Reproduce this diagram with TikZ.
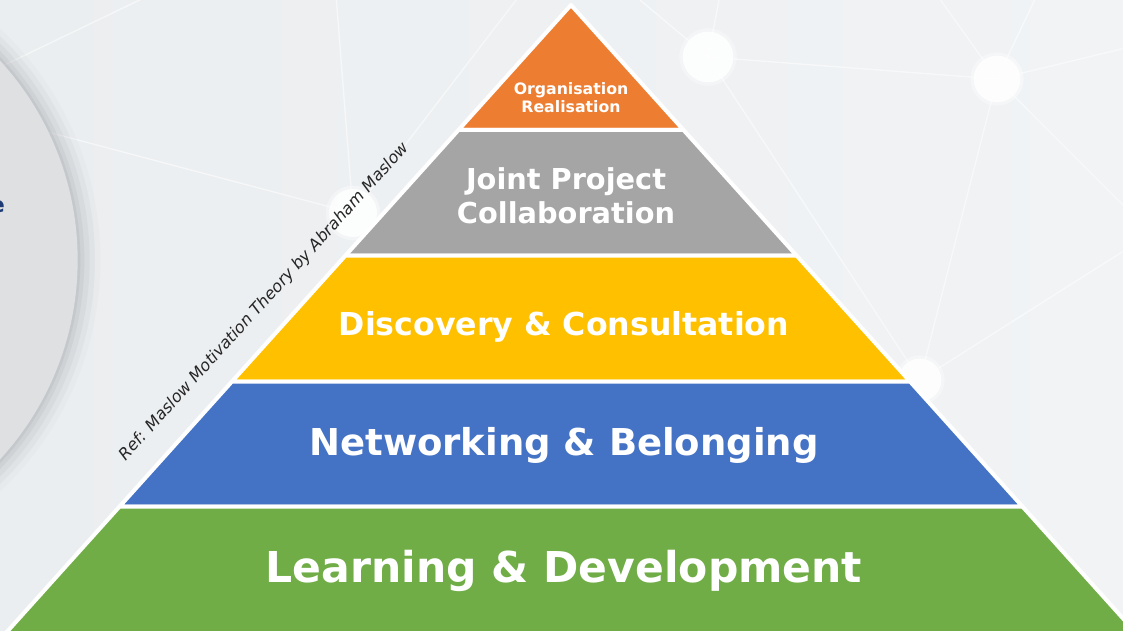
\documentclass[tikz,border=0pt]{standalone}
\usepackage{fontspec}
\setmainfont{DejaVu Sans}
\usetikzlibrary{positioning}

\definecolor{bgleft}{HTML}{EBEEF0}
\definecolor{bgright}{HTML}{F1F3F5}
\definecolor{orgorange}{HTML}{ED7D31}
\definecolor{jointgray}{HTML}{A5A5A5}
\definecolor{discyellow}{HTML}{FFC000}
\definecolor{netblue}{HTML}{4472C4}
\definecolor{learngreen}{HTML}{70AD47}
\definecolor{discgray}{HTML}{DFE0E1}
\definecolor{shadowgray}{HTML}{A9AEB3}
\definecolor{navytext}{HTML}{1F3B73}

\tikzset{
  layer/.style={draw=white, line width=3pt, line join=round},
  layertext/.style 2 args={text=white, inner sep=0pt, align=center,
    font=\bfseries\fontsize{#1}{#2}\selectfont},
  netline/.style={white, line width=1pt, opacity=0.5},
  netdot/.style={fill=white, opacity=0.8},
  reftext/.style={text=black!85, inner sep=0pt,
    font=\itshape\fontsize{12.2pt}{14pt}\selectfont},
}

\begin{document}
\begin{tikzpicture}[x=0.75pt,y=-0.75pt]
\useasboundingbox (0,0) rectangle (1123,631);
\clip (0,0) rectangle (1123,631);
\shade [left color=bgleft, right color=bgright] (0,0) rectangle (1123,631);

% network in the background
\coordinate (netA) at (708,57);
\coordinate (netB) at (997,79);
\coordinate (netC) at (920,380);
\coordinate (netD) at (353,213);

\draw [netline] (netA)--(netB);
\draw [netline] (netA)--(720,-5);
\draw [netline] (netA)--(640,0);
\draw [netline] (netA)--(netC);
\draw [netline] (netB)--(netC);
\draw [netline] (netB)--(1130,47);
\draw [netline] (netB)--(1037,-5);
\draw [netline] (netB)--(937,-5);
\draw [netline] (netB)--(1130,212);
\draw [netline] (netC)--(1130,247);
\draw [netline] (netD)--(336,-5);
\draw [netline] (netD)--(-5,118);
\draw [netline] (netD)--(520,-5);
\draw [netline] (-10,72)--(150,-5);

\fill [white, opacity=0.35] (netA) circle (21.5pt);
\fill [netdot] (netA) circle (19pt);
\fill [white, opacity=0.35] (netB) circle (20pt);
\fill [netdot] (netB) circle (17.5pt);
\fill [white, opacity=0.35] (netC) circle (18.5pt);
\fill [netdot] (netC) circle (16pt);
\fill [white, opacity=0.35] (netD) circle (20.5pt);
\fill [netdot] (netD) circle (18pt);

% the big disc on the left
\coordinate (disc) at (-217,260);
\fill [shadowgray, opacity=0.06] (disc) circle (238pt);
\fill [shadowgray, opacity=0.1] (disc) circle (234pt);
\fill [shadowgray, opacity=0.14] (disc) circle (230pt);
\fill [shadowgray, opacity=0.2] (disc) circle (226pt);
\fill [shadowgray, opacity=0.25] (disc) circle (223pt);
\fill [discgray] (disc) circle (221pt);
\node [text=navytext, inner sep=0pt, anchor=base east,
  font=\bfseries\fontsize{16pt}{19pt}\selectfont] (cut) at (5,212) {e};

% the pyramid, top to bottom
\filldraw [layer, fill=orgorange]
(571,5)--(683.5,130)--(458.5,130)--cycle;
\filldraw [layer, fill=jointgray]
(458.5,130)--(683.5,130)--(796.5,255.5)--(345.5,255.5)--cycle;
\filldraw [layer, fill=discyellow]
(345.5,255.5)--(796.5,255.5)--(910,381.5)--(232,381.5)--cycle;
\filldraw [layer, fill=netblue]
(232,381.5)--(910,381.5)--(1022.4,506.5)--(119.6,506.5)--cycle;
\filldraw [layer, fill=learngreen]
(119.6,506.5)--(1022.4,506.5)--(1137,634)--(5,634)--cycle;

\node [layertext={11.8pt}{13.5pt}] (org) at (571,98) {Organisation\\Realisation};
\node [layertext={21.6pt}{25.5pt}] (joint) at (566,196) {Joint Project\\Collaboration};
\node [layertext={23.7pt}{28pt}, anchor=base] (discover) at (564,335) {Discovery \& Consultation};
\node [layertext={27.75pt}{33pt}, anchor=base] (network) at (564,455) {Networking \& Belonging};
\node [layertext={31.9pt}{38pt}, anchor=base] (learn) at (564,582) {Learning \& Development};

\node [reftext, rotate=47.8] (ref) at (264,302) {Ref: Maslow Motivation Theory by Abraham Maslow};

%\draw [help lines] (0,0) grid (1123,631);
\end{tikzpicture}
\end{document}
